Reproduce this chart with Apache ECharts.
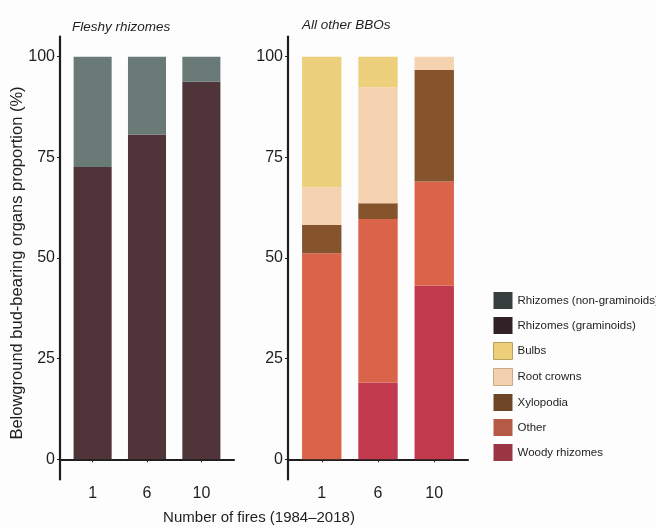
<!DOCTYPE html>
<html>
<head>
<meta charset="utf-8">
<script src="https://cdn.jsdelivr.net/npm/echarts@6/dist/echarts.min.js"></script>
<style>
  html, body { margin: 0; padding: 0; background: #fdfdfd; }
  #chart { width: 656px; height: 529px; }
</style>
</head>
<body>
<div id="chart"></div>
<script>
// Number of fires recorded per site (1984–2018)
const fires = ['1', '6', '10'];
const yTicks = [0, 25, 50, 75, 100];

// Fleshy rhizomes (% of BBOs)
const rhizomesGraminoids = [72.6, 80.6, 93.8];
const rhizomesNonGraminoids = [27.4, 19.4, 6.2];

// All other BBOs (% of BBOs), stacked bottom to top
const woodyRhizomes = [0, 19.1, 43.1];
const other = [51.2, 40.6, 25.9];
const xylopodia = [7.0, 3.9, 27.7];
const rootCrowns = [9.4, 28.8, 3.3];
const bulbs = [32.4, 7.6, 0];

const FONT = "'Liberation Sans', Arial, sans-serif";
const INK = '#1e1e1e';

// Each panel: an outer frame grid (axis lines, y labels) whose x range is
// padded by 0.6 of a category on each side, and an inner grid holding the bars.
const TOP = 36.6, HEIGHT = 442.8;
const panels = [
  { left: 60, width: 174 },
  { left: 288, width: 180 }
];
const grids = [];
panels.forEach(p => {
  const band = p.width / 3.2;
  grids.push({ left: p.left, top: TOP, width: p.width, height: HEIGHT });
  grids.push({ left: p.left + 0.1 * band, top: TOP, width: 3 * band, height: HEIGHT });
});

const xAxes = [], yAxes = [];
panels.forEach((p, k) => {
  // frame
  xAxes.push({
    gridIndex: 2 * k, type: 'value', min: 0, max: 1,
    axisLine: { show: true, lineStyle: { color: INK, width: 2.2 } },
    axisTick: { show: false }, axisLabel: { show: false }, splitLine: { show: false }
  });
  yAxes.push({
    gridIndex: 2 * k, type: 'value', min: -5, max: 105,
    axisLine: { show: true, lineStyle: { color: INK, width: 2.2 } },
    axisTick: { show: true, length: 3, customValues: yTicks, lineStyle: { color: INK } },
    axisLabel: { customValues: yTicks, color: INK, fontFamily: FONT, fontSize: 16, margin: 5 },
    splitLine: { show: false }
  });
  // bars
  xAxes.push({
    gridIndex: 2 * k + 1, type: 'category', data: fires,
    axisLine: { show: false },
    axisTick: { show: true, alignWithLabel: true, length: 3, inside: false, lineStyle: { color: INK } },
    axisLabel: { color: INK, fontFamily: FONT, fontSize: 16, margin: 6 },
    splitLine: { show: false }
  });
  yAxes.push({
    gridIndex: 2 * k + 1, type: 'value', min: -5, max: 105, show: false
  });
});

function bar(name, data, color, panel, stack) {
  return {
    name, type: 'bar', stack, xAxisIndex: 2 * panel + 1, yAxisIndex: 2 * panel + 1,
    barWidth: '70%', data,
    itemStyle: { color },
    emphasis: { disabled: true }
  };
}

const legendItems = [
  { name: 'Rhizomes (non-graminoids)', itemStyle: { color: '#363f3d' } },
  { name: 'Rhizomes (graminoids)', itemStyle: { color: '#2f2125' } },
  { name: 'Bulbs', itemStyle: { color: '#eccf78', borderColor: '#b8a060', borderWidth: 1 } },
  { name: 'Root crowns', itemStyle: { color: '#f4d1ae', borderColor: '#c8a888', borderWidth: 1 } },
  { name: 'Xylopodia', itemStyle: { color: '#6d4628' } },
  { name: 'Other', itemStyle: { color: '#b45a45' } },
  { name: 'Woody rhizomes', itemStyle: { color: '#9b3744' } }
];

const chart = echarts.init(document.getElementById('chart'), null, { renderer: 'canvas' });
chart.setOption({
  backgroundColor: '#fdfdfd',
  animation: false,
  title: [
    { text: 'Fleshy rhizomes', left: 67, top: 15,
      textStyle: { fontFamily: FONT, fontStyle: 'italic', fontWeight: 'normal', fontSize: 13.5, color: INK } },
    { text: 'All other BBOs', left: 297, top: 13,
      textStyle: { fontFamily: FONT, fontStyle: 'italic', fontWeight: 'normal', fontSize: 13.5, color: INK } }
  ],
  grid: grids,
  xAxis: xAxes,
  yAxis: yAxes,
  legend: {
    orient: 'vertical', left: 493, top: 292, padding: 0,
    itemWidth: 19, itemHeight: 17, itemGap: 8,
    icon: 'rect', selectedMode: false,
    textStyle: { fontFamily: FONT, fontSize: 11.5, color: INK },
    data: legendItems
  },
  series: [
    bar('Rhizomes (graminoids)', rhizomesGraminoids, '#4f343a', 0, 'fleshy'),
    bar('Rhizomes (non-graminoids)', rhizomesNonGraminoids, '#697a77', 0, 'fleshy'),
    bar('Woody rhizomes', woodyRhizomes, '#c0394c', 1, 'other'),
    bar('Other', other, '#d9644a', 1, 'other'),
    bar('Xylopodia', xylopodia, '#85532c', 1, 'other'),
    bar('Root crowns', rootCrowns, '#f5d3b0', 1, 'other'),
    bar('Bulbs', bulbs, '#ecd07c', 1, 'other')
  ],
  graphic: [
    { type: 'text', x: 17, y: 263, rotation: Math.PI / 2,
      style: { text: 'Belowground bud-bearing organs proportion (%)', fontFamily: FONT, fontSize: 16.5,
               fill: INK, align: 'center', verticalAlign: 'middle' } },
    { type: 'text', x: 259, y: 518,
      style: { text: 'Number of fires (1984–2018)', fontFamily: FONT, fontSize: 15,
               fill: INK, align: 'center', verticalAlign: 'middle' } }
  ]
});
</script>
</body>
</html>
